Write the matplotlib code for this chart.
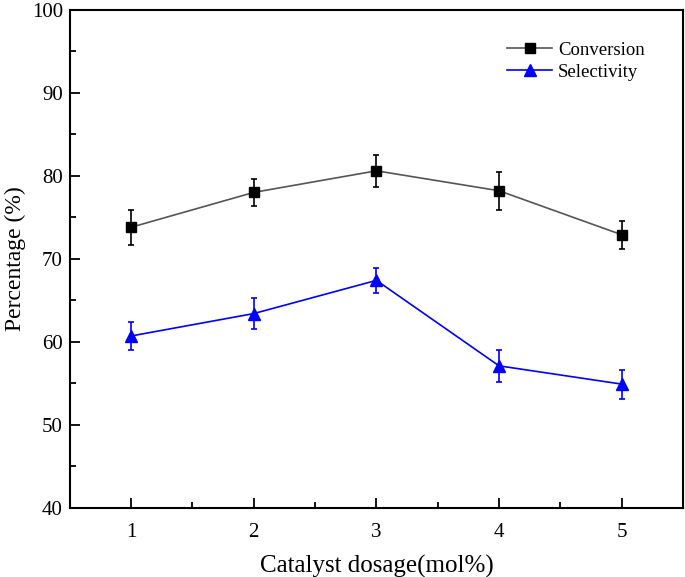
import matplotlib
matplotlib.use('Agg')
import matplotlib.pyplot as plt
from matplotlib.ticker import MultipleLocator
from matplotlib.lines import Line2D

plt.rcParams['font.family'] = ['Liberation Serif', 'DejaVu Serif']
plt.rcParams['mathtext.fontset'] = 'stix'

# data
dosage = [1, 2, 3, 4, 5]
conversion = [73.8, 78.0, 80.6, 78.2, 72.9]
conversion_err = [2.1, 1.6, 1.9, 2.3, 1.7]
selectivity = [60.7, 63.4, 67.4, 57.1, 54.9]
selectivity_err = [1.7, 1.85, 1.5, 1.9, 1.75]

fig = plt.figure(figsize=(6.85, 5.77), dpi=100)
ax = fig.add_axes([0.102, 0.120, 0.895, 0.863])

ax.errorbar(dosage, conversion, yerr=conversion_err, color='#555555', ecolor='black',
            marker='s', markersize=6.5, markerfacecolor='black', markeredgecolor='black',
            linewidth=1.2, elinewidth=1.2, capsize=2.5, capthick=1.2)
ax.errorbar(dosage, selectivity, yerr=selectivity_err, color='#0000ff', ecolor='#0000ff',
            marker='^', markersize=8, markerfacecolor='#0000ff', markeredgecolor='#0000ff',
            linewidth=1.2, elinewidth=1.2, capsize=2.5, capthick=1.2)

ax.set_xlim(0.5, 5.5)
ax.set_ylim(40, 100)
ax.xaxis.set_major_locator(MultipleLocator(1))
ax.xaxis.set_minor_locator(MultipleLocator(0.5))
ax.yaxis.set_major_locator(MultipleLocator(10))
ax.yaxis.set_minor_locator(MultipleLocator(5))
ax.tick_params(which='major', direction='in', length=7, width=1.3, labelsize=15)
ax.tick_params(which='minor', direction='in', length=4, width=1.3)
ax.tick_params(axis='x', pad=11)
ax.tick_params(axis='y', pad=5)
for s in ax.spines.values():
    s.set_linewidth(1.5)

ax.set_xlabel('Catalyst dosage(mol%)', fontsize=18, labelpad=9)
ax.set_ylabel('Percentage (%)', fontsize=17, labelpad=4)

handles = [
    Line2D([], [], color='#555555', marker='s', markersize=6.5,
           markerfacecolor='black', markeredgecolor='black', linewidth=1.2),
    Line2D([], [], color='#0000ff', marker='^', markersize=8,
           markerfacecolor='#0000ff', markeredgecolor='#0000ff', linewidth=1.2),
]
ax.legend(handles, ['Conversion', 'Selectivity'], loc='upper right',
          bbox_to_anchor=(0.965, 0.97), frameon=False, fontsize=13.5,
          handlelength=2.4, handletextpad=0.3, labelspacing=0.25)

fig.savefig('out.png', dpi=100)
